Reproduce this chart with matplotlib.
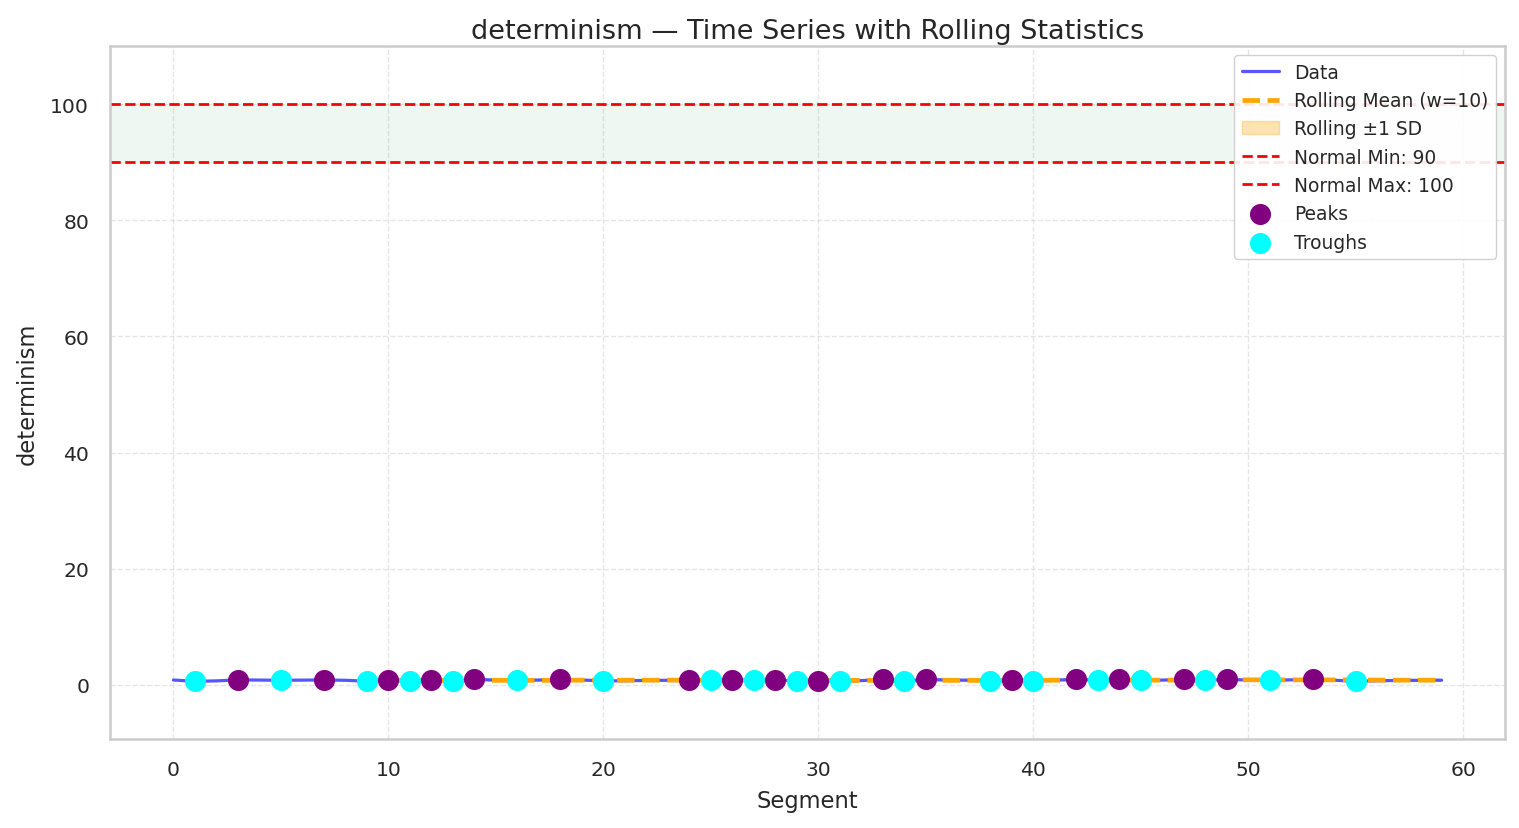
import numpy as np
import pandas as pd
import matplotlib
matplotlib.use("Agg")
import matplotlib.pyplot as plt
import seaborn as sns

# determinism per segment (roughly 0.6 - 1.0)
values = [0.85, 0.62, 0.70, 0.88, 0.84, 0.80, 0.83, 0.86, 0.80, 0.65,
          0.85, 0.66, 0.84, 0.66, 0.95, 0.85, 0.80, 0.85, 0.98, 0.85,
          0.70, 0.72, 0.78, 0.80, 0.86, 0.83, 0.90, 0.80, 0.88, 0.66,
          0.72, 0.62, 0.75, 0.95, 0.70, 0.98, 0.85, 0.82, 0.70, 0.80,
          0.75, 0.82, 0.98, 0.82, 0.95, 0.80, 0.84, 0.96, 0.80, 0.96,
          0.85, 0.80, 0.88, 0.98, 0.82, 0.62, 0.72, 0.78, 0.80, 0.82]
peak_idx = [3, 7, 10, 12, 14, 18, 24, 26, 28, 30, 33, 35, 39, 42, 44, 47, 49, 53]
trough_idx = [1, 5, 9, 11, 13, 16, 20, 25, 27, 29, 31, 34, 38, 40, 43, 45, 48, 51, 55]
window = 10
normal_min = 90
normal_max = 100


def main():
    sns.set_theme(style="whitegrid")
    s = pd.Series(values)
    x = np.arange(len(s))
    roll_mean = s.rolling(window).mean()
    roll_std = s.rolling(window).std()

    fig, ax = plt.subplots(figsize=(15.19, 8.29), dpi=100)

    ax.axhspan(normal_min, normal_max, color='#2ca25f', alpha=0.08)
    ax.plot(x, s, color='#4444ff', linewidth=2.3, alpha=0.9, label='Data')
    ax.plot(x, roll_mean, color='orange', linestyle='--', linewidth=3.4,
            label=f'Rolling Mean (w={window})')
    ax.fill_between(x, roll_mean - roll_std, roll_mean + roll_std,
                    color='orange', alpha=0.3, label='Rolling ±1 SD')
    ax.axhline(normal_min, color='red', linestyle='--', linewidth=2,
               label=f'Normal Min: {normal_min}')
    ax.axhline(normal_max, color='red', linestyle='--', linewidth=2,
               label=f'Normal Max: {normal_max}')
    ax.scatter(peak_idx, s[peak_idx], color='purple', s=200, zorder=5, label='Peaks')
    ax.scatter(trough_idx, s[trough_idx], color='cyan', s=200, zorder=5, label='Troughs')

    ax.set_xlim(-2.95, 61.95)
    ax.set_ylim(-9.3, 110)
    ax.grid(True, linestyle='--', alpha=0.5)
    for sp in ax.spines.values():
        sp.set_color('#cccccc')
        sp.set_linewidth(1.8)

    ax.set_title('determinism — Time Series with Rolling Statistics', fontsize=19.5)
    ax.set_xlabel('Segment', fontsize=16.3, labelpad=7)
    ax.set_ylabel('determinism', fontsize=16.3, labelpad=8)
    ax.tick_params(axis='both', labelsize=14.6, pad=9)
    ax.legend(loc='upper right', fontsize=13.4, framealpha=0.9)

    fig.subplots_adjust(left=0.0724, right=0.9908, top=0.9433, bottom=0.1074)
    plt.savefig('out.png', dpi=100)


if __name__ == "__main__":
    main()
